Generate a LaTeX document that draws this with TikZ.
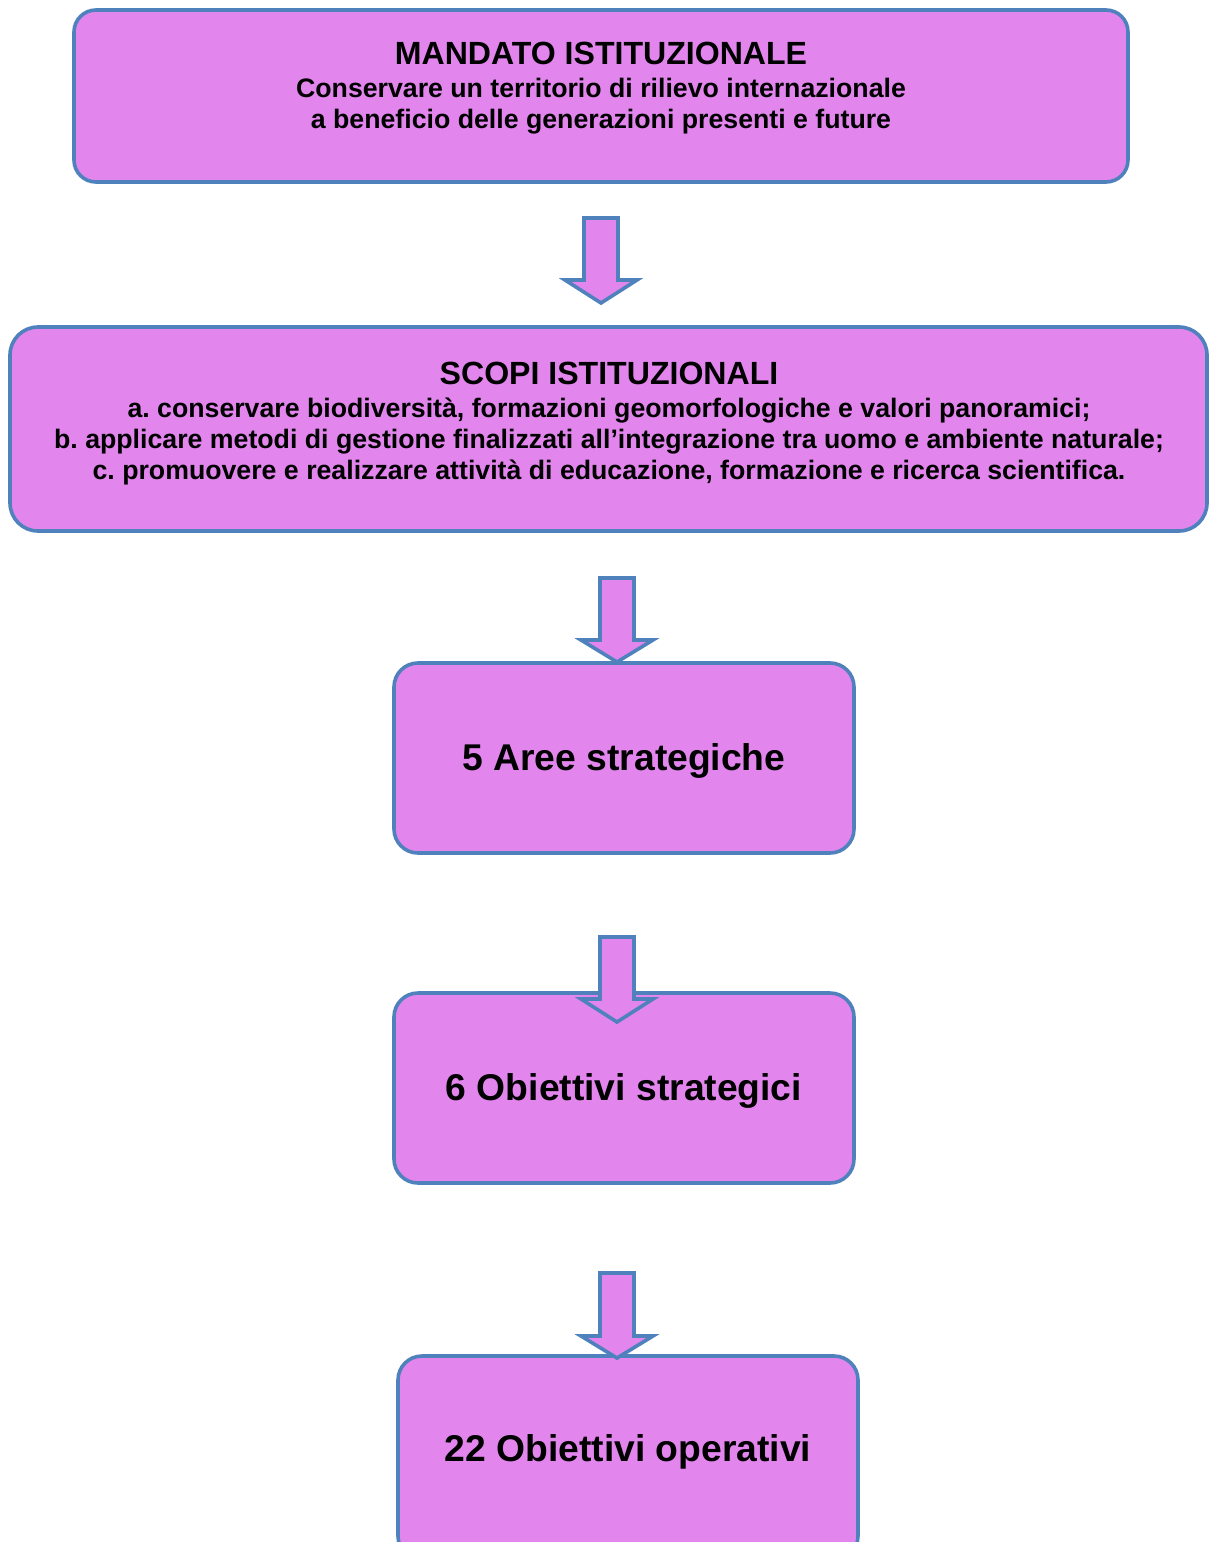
\documentclass[tikz,border=0pt]{standalone}
\usepackage{fontspec}
\setmainfont{Liberation Sans}
\definecolor{boxfill}{HTML}{E286EE}
\definecolor{boxline}{HTML}{4F81BD}
\tikzset{
  box/.style={draw=boxline, fill=boxfill, line width=3.6bp, rounded corners=#1},
  box/.default=22bp,
  lbl/.style={anchor=base, inner sep=0pt, font=\frenchspacing\bfseries\fontsize{26.8}{30}\selectfont},
  ttl/.style={anchor=base, inner sep=0pt, font=\bfseries\fontsize{32.2}{36}\selectfont},
  big/.style={anchor=base, inner sep=0pt, font=\bfseries\fontsize{37.4}{42}\selectfont},
  barrow/.style={draw=boxline, fill=boxfill, line width=3.6bp, line join=miter}
}
\newcommand\blockarrow[4]{% cx, top, base, tip
  \draw[barrow] (#1-17,#2) -- (#1+17,#2) -- (#1+17,#3) -- (#1+36,#3) -- (#1,#4)
    -- (#1-36,#3) -- (#1-17,#3) -- cycle;}
\begin{document}
\begin{tikzpicture}[x=1bp,y=-1bp]
\useasboundingbox (0,0) rectangle (1209,1542);
\clip (0,0) rectangle (1209,1542);
% boxes
\draw[box] (74,10) rectangle (1128,182);
\coordinate (b1) at (601,96);
\draw[box=28bp] (10,327) rectangle (1207,531);
\coordinate (b2) at (608,429);
\draw[box=24bp] (394,663) rectangle (854,853);
\coordinate (b3) at (624,758);
\draw[box=24bp] (394,993) rectangle (854,1183);
\coordinate (b4) at (624,1088);
\draw[box=24bp] (398,1356) rectangle (858,1560);
\coordinate (b5) at (628,1450);
% texts
\node[ttl] (t1a) at (601,64.5) {MANDATO ISTITUZIONALE};
\node[lbl] (t1b) at (601,98) {Conservare un territorio di rilievo internazionale};
\node[lbl] (t1c) at (601,129) {a beneficio delle generazioni presenti e future};
\node[ttl] (t2a) at (609,384.5) {SCOPI ISTITUZIONALI};
\node[lbl] (t2b) at (609,417) {a. conservare biodiversità, formazioni geomorfologiche e valori panoramici;};
\node[lbl] (t2c) at (609,448) {b. applicare metodi di gestione finalizzati all’integrazione tra uomo e ambiente naturale;};
\node[lbl] (t2d) at (609,479) {c. promuovere e realizzare attività di educazione, formazione e ricerca scientifica.};
\node[big] (t3) at (624,770) {5 Aree strategiche};
\node[big] (t4) at (624,1100) {6 Obiettivi strategici};
\node[big] (t5) at (628,1461) {22 Obiettivi operativi};
% arrows
\blockarrow{601}{218}{280}{303}
\blockarrow{617}{578}{640}{662}
\blockarrow{617}{937}{999}{1022}
\blockarrow{617}{1273}{1336}{1358}
\end{tikzpicture}
\end{document}
